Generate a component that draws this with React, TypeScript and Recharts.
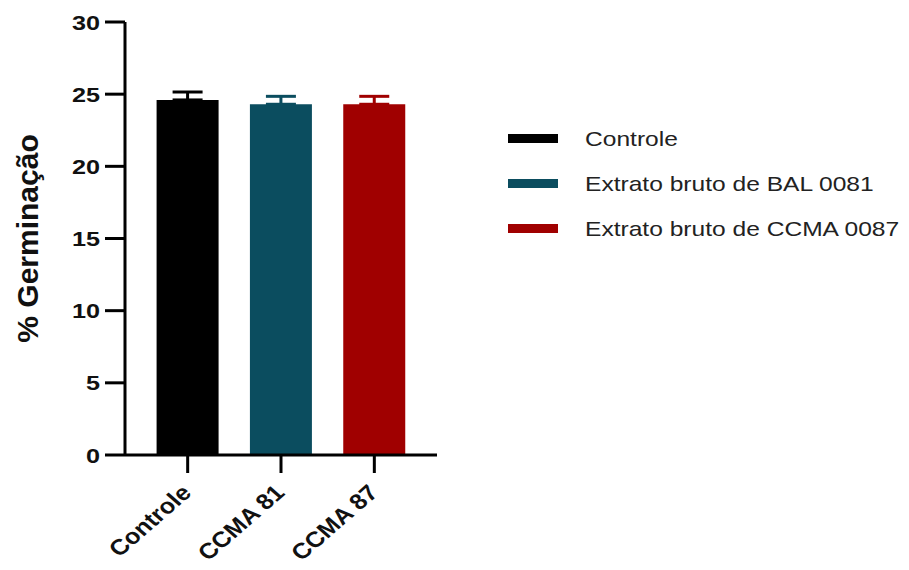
import { BarChart, Bar, XAxis, YAxis, Legend, ErrorBar, Label } from "recharts";

const categories = ["Controle", "CCMA 81", "CCMA 87"];
const seriesNames = ["Controle", "Extrato bruto de BAL 0081", "Extrato bruto de CCMA 0087"];
const germination = [24.6, 24.3, 24.3];
const semUpper = [0.55, 0.55, 0.55];
const yTicks = [0, 5, 10, 15, 20, 25, 30];
const colors = ["#000000", "#0b4d5f", "#a00000"];

// one row per category, each series only fills its own category (stacked so bars sit centred)
const rows = categories.map((name, i) => {
  const row: Record<string, any> = { name };
  row[`s${i}`] = germination[i];
  row[`e${i}`] = [0, semUpper[i]];
  return row;
});

const FONT = "'Liberation Sans', Arial, sans-serif";

function YTick({ x, y, payload }: any) {
  return (
    <g transform={`translate(${x},${y}) scale(1.2,1)`}>
      <text textAnchor="end" dy="0.36em" fontFamily={FONT} fontWeight="bold" fontSize={21} fill="#111">
        {payload.value}
      </text>
    </g>
  );
}

function XTick({ x, y, payload }: any) {
  return (
    <g transform={`translate(${x + 5},${y + 21}) scale(1.15,1) rotate(-45)`}>
      <text textAnchor="end" fontFamily={FONT} fontWeight="bold" fontSize={22} fill="#111">
        {payload.value}
      </text>
    </g>
  );
}

function LegendBox() {
  return (
    <div style={{ fontFamily: FONT }}>
      {seriesNames.map((n, i) => (
        <div key={n} style={{ display: "flex", alignItems: "center", height: 45 }}>
          <div style={{ width: 50, height: 9, background: colors[i], marginRight: 27 }} />
          <div
            style={{
              fontSize: 21,
              color: "#222",
              whiteSpace: "nowrap",
              transform: "scaleX(1.17)",
              transformOrigin: "left center",
            }}
          >
            {n}
          </div>
        </div>
      ))}
    </div>
  );
}

export default function App() {
  return (
    <>
      <style>{"body{margin:0;background:#fff}"}</style>
      <BarChart
        width={909}
        height={570}
        data={rows}
        margin={{ top: 22, right: 472, bottom: 0, left: 0 }}
        barCategoryGap="16.7%"
      >
        <XAxis
          dataKey="name"
          height={115}
          padding={{ left: 16, right: 16 }}
          axisLine={{ stroke: "#000", strokeWidth: 3 }}
          tickLine={{ stroke: "#000", strokeWidth: 3 }}
          tickSize={18}
          tickMargin={0}
          tick={<XTick />}
          interval={0}
        />
        <YAxis
          width={125}
          domain={[0, 30]}
          ticks={yTicks}
          axisLine={{ stroke: "#000", strokeWidth: 3 }}
          tickLine={{ stroke: "#000", strokeWidth: 3 }}
          tickSize={20}
          tickMargin={5}
          tick={<YTick />}
        >
          <Label
            content={({ viewBox }: any) => {
              const cx = viewBox.x + 27;
              const cy = viewBox.y + viewBox.height / 2;
              return (
                <text
                  x={cx}
                  y={cy}
                  transform={`rotate(-90, ${cx}, ${cy})`}
                  textAnchor="middle"
                  dominantBaseline="central"
                  fontFamily={FONT}
                  fontWeight="bold"
                  fontSize={30}
                  fill="#111"
                >
                  % Germinação
                </text>
              );
            }}
          />
        </YAxis>
        <Legend
          layout="vertical"
          align="center"
          verticalAlign="middle"
          wrapperStyle={{ left: 508, top: 116, width: 400 }}
          content={() => <LegendBox />}
        />
        {seriesNames.map((n, i) => (
          <Bar key={n} dataKey={`s${i}`} name={n} stackId="a" fill={colors[i]} isAnimationActive={false}>
            <ErrorBar dataKey={`e${i}`} width={15} stroke={colors[i]} strokeWidth={3} direction="y" />
          </Bar>
        ))}
      </BarChart>
    </>
  );
}
